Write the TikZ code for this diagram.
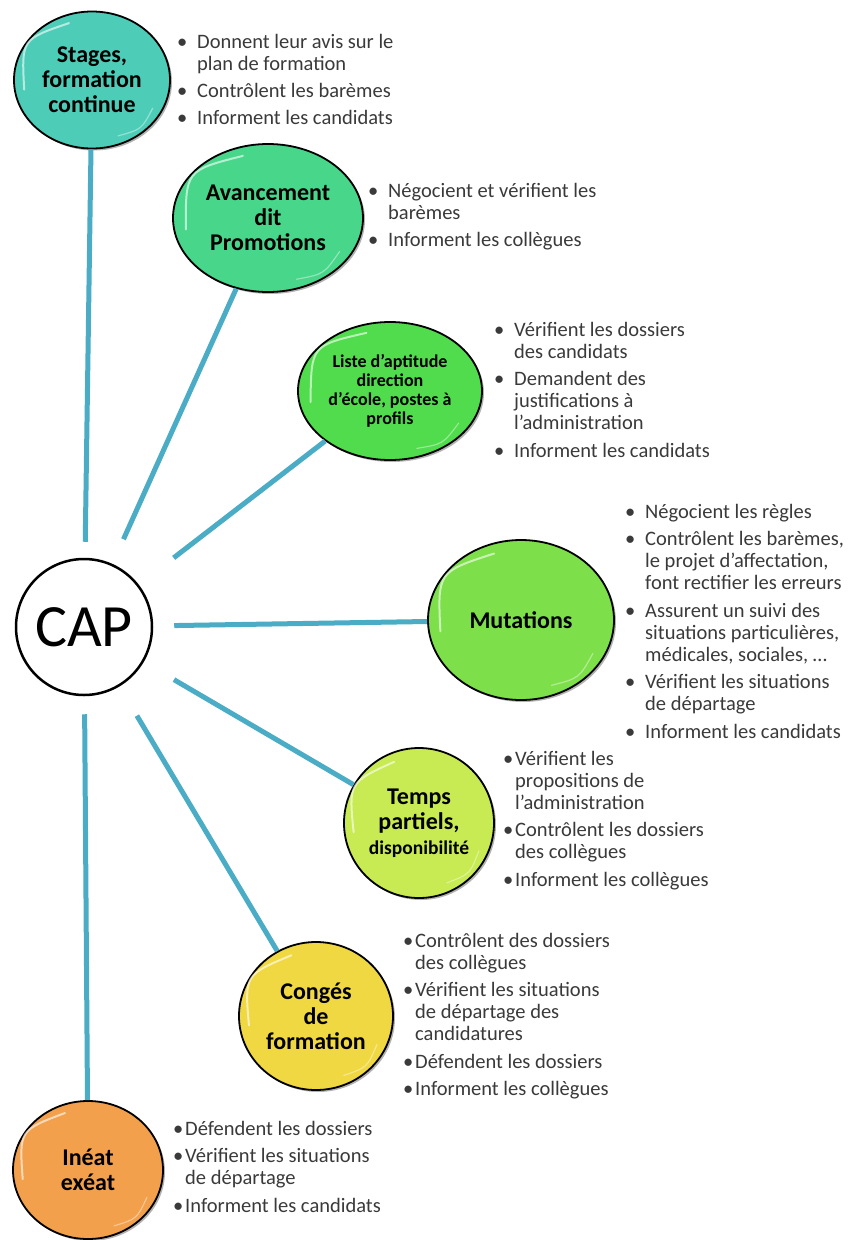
\documentclass[tikz,border=0pt]{standalone}
\usepackage{fontspec}
\setmainfont{Carlito}
\usetikzlibrary{shapes.geometric,shadows,calc}
\definecolor{connblue}{HTML}{4BACC6}
\definecolor{txtgray}{HTML}{3A3A3A}
\definecolor{cStages}{HTML}{4DCDB8}
\definecolor{cAvanc}{HTML}{48D68A}
\definecolor{cListe}{HTML}{50DC4C}
\definecolor{cMut}{HTML}{7DE04A}
\definecolor{cTemps}{HTML}{C8EA52}
\definecolor{cConges}{HTML}{F0D842}
\definecolor{cIneat}{HTML}{F2A04C}
\newcommand{\bi}[1]{\rule{0pt}{15pt}\makebox[20pt][l]{\textbullet}#1}
\newcommand{\ci}{\hspace*{20pt}}
\newcommand{\bj}[1]{\rule{0pt}{15pt}\makebox[12pt][l]{\textbullet}#1}
\newcommand{\cj}{\hspace*{12pt}}
\newcommand{\gloss}[1]{%
  \draw[glossline] ($(#1.center)!0.87!(#1.112)$) .. controls ($(#1.center)!1.07!(#1.150)$) .. ($(#1.center)!0.87!(#1.188)$);
  \draw[glossline, line width=1.2pt, opacity=.4] ($(#1.center)!0.87!(#1.-25)$) .. controls ($(#1.center)!0.95!(#1.-45)$) .. ($(#1.center)!0.87!(#1.-65)$);
}
\begin{document}
\begin{tikzpicture}[x=1pt,y=-1pt,
  bubble/.style={ellipse, draw=black, line width=1.8pt, inner sep=0pt, align=center,
    text=black, font=\bfseries\fontsize{24}{25}\selectfont,
    drop shadow={shadow xshift=2pt, shadow yshift=-2pt, opacity=0.3, fill=black}},
  conn/.style={draw=connblue, line width=5pt},
  blist/.style={anchor=north west, inner sep=0pt, align=left, text=txtgray,
    font=\fontsize{20.5}{22}\selectfont},
  glossline/.style={draw=white, line width=2pt, opacity=.6, line cap=round}
]
\path[use as bounding box, fill=white] (0,0) rectangle (853,1240);

% central node
\node[circle, draw=black, line width=2.5pt, fill=white, minimum size=136pt, inner sep=0pt,
  font=\fontsize{60}{62}\selectfont] (cap) at (84,627) {CAP};

% satellites
\node[bubble, fill=cStages, minimum width=156pt, minimum height=137pt] (stages) at (92,80) {Stages,\\formation\\continue};
\node[bubble, fill=cAvanc, minimum width=190pt, minimum height=148pt] (avanc) at (268,218) {Avancement\\dit\\Promotions};
\node[bubble, fill=cListe, minimum width=184pt, minimum height=138pt,
  font=\bfseries\fontsize{18}{19}\selectfont] (liste) at (390,391) {Liste d’aptitude\\direction\\d’école, postes à\\profils};
\node[bubble, fill=cMut, minimum width=186pt, minimum height=160pt] (mut) at (521,620) {Mutations};
\node[bubble, fill=cTemps, minimum width=150pt, minimum height=150pt] (temps) at (419,823) {Temps\\partiels,\\{\fontsize{19.5}{21}\selectfont disponibilité}};
\node[bubble, fill=cConges, minimum width=154pt, minimum height=148pt] (conges) at (316,1016) {Congés\\de\\formation};
\node[bubble, fill=cIneat, minimum width=150pt, minimum height=138pt] (ineat) at (88,1170) {Inéat\\exéat};

\foreach \n in {stages,avanc,liste,mut,temps,conges,ineat} {\gloss{\n}}

% connectors
\draw[conn, shorten <=16pt] (cap) -- (stages);
\draw[conn, shorten <=27pt] (cap) -- (avanc);
\draw[conn, shorten <=44pt] (cap) -- (liste);
\draw[conn, shorten <=21pt] (cap) -- (mut);
\draw[conn, shorten <=35pt] (cap) -- (temps);
\draw[conn, shorten <=34pt] (cap) -- (conges);
\draw[conn, shorten <=18pt] (cap) -- (ineat);

% lists
\node[blist] (l1) at (177,33) {\bi{Donnent leur avis sur le}\\ \ci plan de formation\\[5pt]
  \bi{Contrôlent les barèmes}\\[5pt] \bi{Informent les candidats}};
\node[blist] (l2) at (368,182) {\bi{Négocient et vérifient les}\\ \ci barèmes\\[5pt]
  \bi{Informent les collègues}};
\node[blist] (l3) at (494,321) {\bi{Vérifient les dossiers}\\ \ci des candidats\\[5.5pt]
  \bi{Demandent des}\\ \ci justifications à\\ \ci l’administration\\[5.5pt]
  \bi{Informent les candidats}};
\node[blist] (l4) at (625,503) {\bi{Négocient les règles}\\[5.5pt]
  \bi{Contrôlent les barèmes,}\\ \ci le projet d’affectation,\\ \ci font rectifier les erreurs\\[5.5pt]
  \bi{Assurent un suivi des}\\ \ci situations particulières,\\ \ci médicales, sociales, …\\[5.5pt]
  \bi{Vérifient les situations}\\ \ci de départage\\[5.5pt]
  \bi{Informent les candidats}};
\node[blist] (l5) at (503,750) {\bj{Vérifient les}\\ \cj propositions de\\ \cj l’administration\\[5.5pt]
  \bj{Contrôlent les dossiers}\\ \cj des collègues\\[5.5pt]
  \bj{Informent les collègues}};
\node[blist] (l6) at (403,932) {\bj{Contrôlent des dossiers}\\ \cj des collègues\\[5.5pt]
  \bj{Vérifient les situations}\\ \cj de départage des\\ \cj candidatures\\[5.5pt]
  \bj{Défendent les dossiers}\\[5.5pt]
  \bj{Informent les collègues}};
\node[blist] (l7) at (173,1120) {\bj{Défendent les dossiers}\\[5.5pt]
  \bj{Vérifient les situations}\\ \cj de départage\\[5.5pt]
  \bj{Informent les candidats}};
\end{tikzpicture}
\end{document}
